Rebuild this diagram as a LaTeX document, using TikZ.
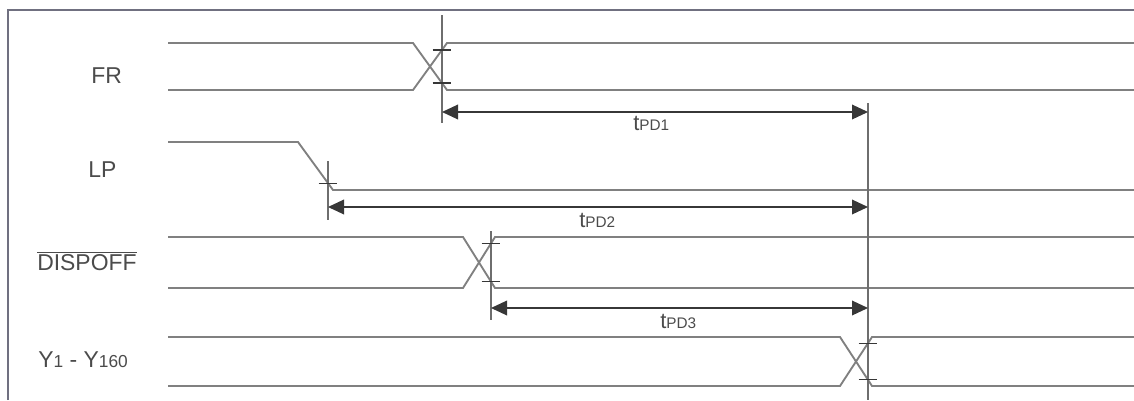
\documentclass[tikz,border=0pt]{standalone}
\usepackage{fontspec}
\setmainfont{Liberation Sans}
\usetikzlibrary{arrows.meta,intersections}
\definecolor{sigcol}{RGB}{128,128,128}
\definecolor{vcol}{RGB}{110,110,110}
\definecolor{framecol}{RGB}{112,112,128}
\definecolor{txtcol}{RGB}{75,75,75}
\definecolor{arrcol}{RGB}{55,55,55}
\newcommand{\bigf}{\fontsize{17.2}{19}\selectfont}
\newcommand{\subf}{\fontsize{13}{14}\selectfont}
\newcommand{\tf}{\fontsize{16.5}{18}\selectfont}
\newcommand{\tsubf}{\fontsize{11.5}{12}\selectfont}
\begin{document}
\begin{tikzpicture}[x=0.75pt,y=-0.75pt,
  signal/.style={draw=sigcol,line width=1.4pt},
  vline/.style={draw=vcol,line width=1.4pt},
  frameline/.style={draw=framecol,line width=1.6pt},
  tick/.style={draw=arrcol,line width=0.9pt},
  dimarrow/.style={draw=arrcol,line width=1pt,{Triangle[length=12pt,width=11pt]}-{Triangle[length=12pt,width=11pt]}},
  siglabel/.style={anchor=base west,inner sep=0pt,text=txtcol,font=\bigf},
  tlabel/.style={anchor=base west,inner sep=0pt,text=txtcol,font=\tf}]
\useasboundingbox (0,0) rectangle (1134,400);
% frame
\draw[frameline] (8,400) -- (8,10) -- (1134,10);
% labels
\node[siglabel] (lfr) at (91,83) {FR};
\node[siglabel] (llp) at (88,177) {LP};
\node[siglabel] (ldis) at (37,270) {$\overline{\mbox{DISPOFF}}$};
\node[siglabel] (ly) at (38,367) {Y{\subf 1} - Y{\subf 160}};
% signals
\draw[signal,name path=fra] (168,43) -- (413,43) -- (447,90) -- (1134,90);
\draw[signal,name path=frb] (168,90) -- (413,90) -- (447,43) -- (1134,43);
\draw[signal,name path=lp] (168,142) -- (298,142) -- (333,190) -- (1134,190);
\draw[signal,name path=dia] (168,237) -- (463,237) -- (495,288) -- (1134,288);
\draw[signal,name path=dib] (168,288) -- (463,288) -- (495,237) -- (1134,237);
\draw[signal,name path=ya] (168,337) -- (840,337) -- (872,386) -- (1134,386);
\draw[signal,name path=yb] (168,386) -- (840,386) -- (872,337) -- (1134,337);
% vertical reference lines
\coordinate (v1t) at (442,15);  \coordinate (v1b) at (442,123);
\coordinate (v2t) at (328,161); \coordinate (v2b) at (328,220);
\coordinate (v3t) at (491,231); \coordinate (v3b) at (491,320);
\coordinate (v4t) at (868,103); \coordinate (v4b) at (868,400);
\draw[vline,name path=v1] (v1t) -- (v1b);
\draw[vline,name path=v2] (v2t) -- (v2b);
\draw[vline,name path=v3] (v3t) -- (v3b);
\draw[vline,name path=v4] (v4t) -- (v4b);
% ticks at crossings
\path[name intersections={of=v1 and fra,name=ia}];
\path[name intersections={of=v1 and frb,name=ib}];
\path[name intersections={of=v2 and lp,name=ic}];
\path[name intersections={of=v3 and dia,name=id}];
\path[name intersections={of=v3 and dib,name=ie}];
\path[name intersections={of=v4 and ya,name=if}];
\path[name intersections={of=v4 and yb,name=ig}];
\foreach \p in {ia-1,ib-1,ic-1,id-1,ie-1,if-1,ig-1}
  \draw[tick] ([xshift=-7pt]\p) -- ([xshift=7pt]\p);
% dimension arrows
\coordinate (a1l) at (442,112); \coordinate (a1r) at (868,112);
\coordinate (a2l) at (328,207); \coordinate (a2r) at (868,207);
\coordinate (a3l) at (491,308); \coordinate (a3r) at (868,308);
\draw[dimarrow] (a1l) -- (a1r);
\draw[dimarrow] (a2l) -- (a2r);
\draw[dimarrow] (a3l) -- (a3r);
\node[tlabel] (t1) at (633,130) {t{\tsubf PD1}};
\node[tlabel] (t2) at (579,227) {t{\tsubf PD2}};
\node[tlabel] (t3) at (660,328) {t{\tsubf PD3}};
\end{tikzpicture}
\end{document}
